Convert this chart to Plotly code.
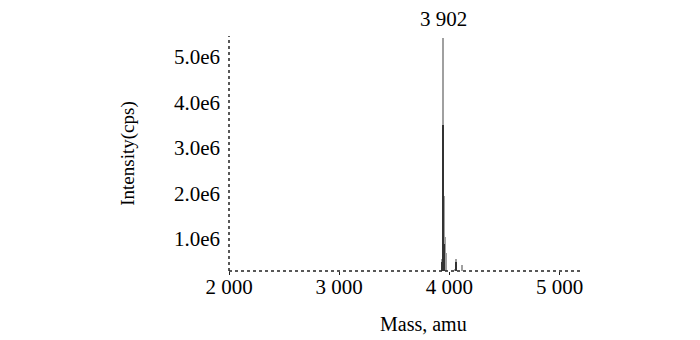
import plotly.graph_objects as go

# Spectrum peaks (mass in amu, intensity in cps)
peak_mass = [3935, 3946, 3952, 3957, 3962, 3968, 4050, 4063, 4118]
peak_gray = [0.55e6, 5.42e6, 1.95e6, 1.55e6, 1.05e6, 0.7e6, 0.35e6, 0.55e6, 0.42e6]
dark_mass = [3935, 3946, 3950, 4063]
dark_int = [0.5e6, 3.5e6, 0.9e6, 0.5e6]

x_tickvals = [2000, 3000, 4000, 5000]
x_ticktext = ["2 000", "3 000", "4 000", "5 000"]
y_tickvals = [1e6, 2e6, 3e6, 4e6, 5e6]
y_ticktext = ["1.0e6", "2.0e6", "3.0e6", "4.0e6", "5.0e6"]
peak_label = "3 902"

font = "Liberation Serif"

fig = go.Figure()
fig.add_trace(go.Bar(x=peak_mass, y=peak_gray, width=13,
                     marker=dict(color="#a0a0a0", line=dict(width=0))))
fig.add_trace(go.Bar(x=dark_mass, y=dark_int, width=9,
                     marker=dict(color="#333333", line=dict(width=0))))

# page body has an 8px margin, so the figure is sized/offset to compensate
fig.update_layout(
    width=692, height=332,
    margin=dict(l=221, r=118, t=28, b=69),
    paper_bgcolor="white", plot_bgcolor="white",
    showlegend=False, barmode="overlay", bargap=0,
    font=dict(family=font, size=19, color="#000"),
    xaxis=dict(range=[2000, 5203], tickvals=x_tickvals, ticktext=x_ticktext,
               showgrid=False, zeroline=False, showline=False,
               ticks="outside", ticklen=3, tickcolor="#222",
               tickfont=dict(family=font, size=21, color="#000"), ticklabelstandoff=-6),
    yaxis=dict(range=[0.297e6, 5.46e6], tickvals=y_tickvals, ticktext=y_ticktext,
               showgrid=False, zeroline=False, showline=False,
               ticks="", tickfont=dict(family=font, size=21, color="#000"),
               ticklabelstandoff=8,
               title=dict(text="Intensity(cps)", font=dict(family=font, size=19, color="#000"),
                          standoff=34)),
    shapes=[
        dict(type="line", xref="paper", yref="paper", x0=0, x1=1, y0=0, y1=0,
             line=dict(color="#222", width=1.5, dash="dot")),
        dict(type="line", xref="paper", yref="paper", x0=0, x1=0, y0=0, y1=1,
             line=dict(color="#222", width=1.5, dash="dot")),
    ],
    annotations=[
        dict(x=3946, y=1, xref="x", yref="paper", text=peak_label, showarrow=False,
             yanchor="bottom", yshift=3, font=dict(family=font, size=21, color="#000")),
        dict(x=0.55, y=0, xref="paper", yref="paper", text="Mass, amu",
             showarrow=False, yanchor="top", yshift=-40,
             font=dict(family=font, size=20, color="#000")),
    ],
)

fig.write_html("out.html")
